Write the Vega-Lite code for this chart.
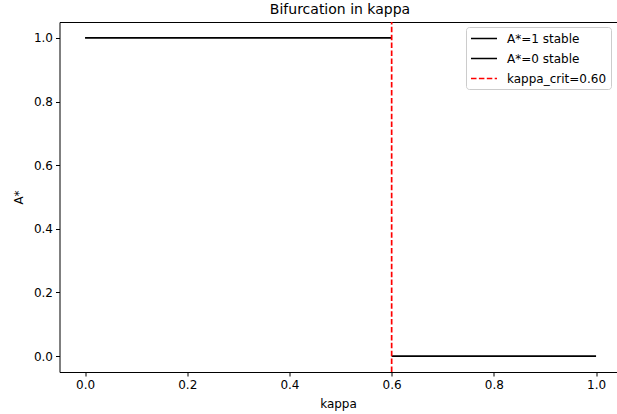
{
  "$schema": "https://vega.github.io/schema/vega-lite/v6.json",
  "width": 557,
  "height": 350,
  "autosize": {"type": "none"},
  "padding": {"left": 59.5, "top": 22, "right": 0, "bottom": 42},
  "background": "white",
  "title": {"text": "Bifurcation in kappa", "fontSize": 14, "font": "DejaVu Sans", "fontWeight": "normal", "color": "#000", "offset": 5, "anchor": "middle", "dx": 2},
  "config": {
    "font": "DejaVu Sans",
    "view": {"stroke": null},
    "axis": {"grid": false, "domainColor": "#000", "tickColor": "#000", "labelColor": "#000", "titleColor": "#000", "labelFontSize": 12, "titleFontSize": 12, "titleFontWeight": "normal", "tickSize": 4, "labelPadding": 3}
  },
  "data": {
    "values": [
      {"series": "A*=1 stable", "kappa": 0.0, "A": 1.0},
      {"series": "A*=1 stable", "kappa": 0.6, "A": 1.0},
      {"series": "A*=0 stable", "kappa": 0.6, "A": 0.0},
      {"series": "A*=0 stable", "kappa": 1.0, "A": 0.0},
      {"series": "kappa_crit=0.60", "kappa": 0.6, "A": -0.05},
      {"series": "kappa_crit=0.60", "kappa": 0.6, "A": 1.05}
    ]
  },
  "layer": [
    {
      "mark": {"type": "line", "strokeOpacity": 0},
      "encoding": {
        "x": {"field": "kappa", "type": "quantitative", "scale": {"domain": [-0.05, 1.04], "nice": false, "zero": false}, "axis": {"orient": "top", "labels": false, "ticks": false, "title": null, "domainColor": "#000"}},
        "y": {"field": "A", "type": "quantitative", "title": "A*", "scale": {"domain": [-0.05, 1.05], "nice": false, "zero": false}, "axis": {"values": [0, 0.2, 0.4, 0.6, 0.8, 1.0], "format": ".1f", "titlePadding": 8}}
      }
    },
    {
      "mark": {"type": "line", "strokeWidth": 1.7, "clip": true},
      "encoding": {
        "x": {"field": "kappa", "type": "quantitative", "title": "kappa", "scale": {"domain": [-0.05, 1.04], "nice": false, "zero": false}, "axis": {"orient": "bottom", "values": [0, 0.2, 0.4, 0.6, 0.8, 1.0], "format": ".1f", "titlePadding": 8}},
        "y": {"field": "A", "type": "quantitative", "title": "A*", "scale": {"domain": [-0.05, 1.05], "nice": false, "zero": false}, "axis": {"values": [0, 0.2, 0.4, 0.6, 0.8, 1.0], "format": ".1f", "titlePadding": 8}},
        "color": {"field": "series", "type": "nominal", "scale": {"domain": ["A*=1 stable", "A*=0 stable", "kappa_crit=0.60"], "range": ["#000000", "#000000", "#ff0000"]},
          "legend": {"title": null, "orient": "none", "legendX": 406.5, "legendY": 5, "labelFontSize": 12, "labelColor": "#000", "symbolType": "M-1,0H3", "symbolSize": 169, "symbolStrokeWidth": 1.7, "fillColor": "white", "strokeColor": "#cccccc", "padding": 4, "cornerRadius": 3, "rowPadding": 6, "labelOffset": 22}},
        "strokeDash": {"field": "series", "type": "nominal", "scale": {"domain": ["A*=1 stable", "A*=0 stable", "kappa_crit=0.60"], "range": [[1, 0], [1, 0], [5.5, 2.4]]}, "legend": null},
        "order": {"field": "kappa"}
      }
    }
  ],
  "resolve": {"axis": {"x": "independent"}}
}
